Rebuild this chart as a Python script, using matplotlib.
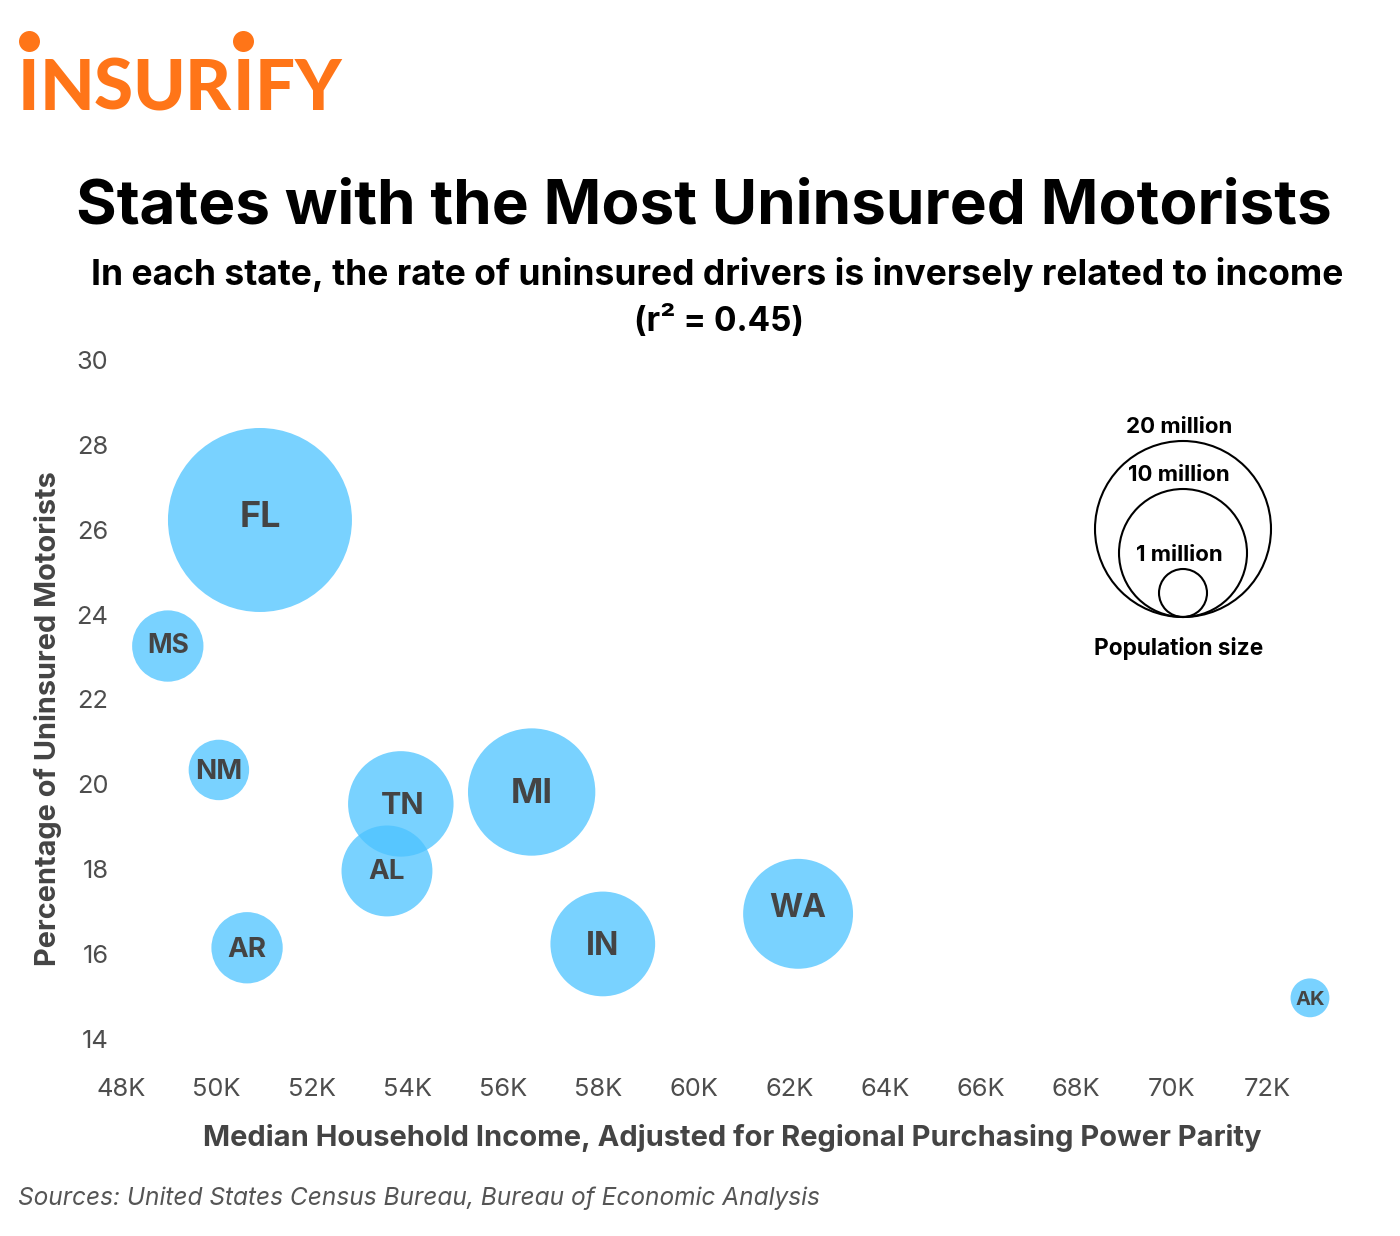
import numpy as np
import matplotlib
matplotlib.use('Agg')
import matplotlib.pyplot as plt

plt.rcParams['font.family'] = ['Inter', 'DejaVu Sans']

states = ['FL', 'MS', 'NM', 'TN', 'MI', 'AL', 'AR', 'IN', 'WA', 'AK']
income = [50.91, 48.98, 50.05, 53.86, 56.6, 53.57, 50.64, 58.09, 62.18, 72.9]
uninsured = [26.23, 23.26, 20.34, 19.54, 19.82, 17.96, 16.15, 16.24, 16.95, 14.97]
population = [21.3, 3.2, 2.3, 7.0, 10.2, 5.2, 3.2, 6.9, 7.6, 0.95]
label_size = [26, 19, 20, 22, 25, 20, 20, 23, 23, 14.5]

x_ticks = list(range(48, 74, 2))
y_ticks = list(range(14, 32, 2))

legend_names = ['20 million', '10 million', '1 million']
legend_radius = [88, 64, 24]
legend_label_y = [427, 475, 555]

logo_letters = list('INSURIFY')
logo_x = [28.5, 67, 113, 159, 208, 243.5, 275, 318]

W, H = 1400, 1236
BLUE = '#4cc3ff'
DARK = '#444444'
ORANGE = '#ff7518'

fig = plt.figure(figsize=(W / 100, H / 100), dpi=100)

# axes box in pixels, 48K at 121, 72K at 1267, 30 at 360, 14 at 1039
left, right, top, bottom = 121, 1340, 360, 1039
ax = fig.add_axes([left / W, 1 - bottom / H, (right - left) / W, (bottom - top) / H])
ax.set_xlim(48, 48 + (right - left) / 47.75)
ax.set_ylim(14, 30)
for s in ax.spines.values():
    s.set_visible(False)

# population is area, FL comes out at about 92 px radius
k = (2 * 92 * 0.72) ** 2 / 21.3
ax.scatter(income, uninsured, s=np.array(population) * k, color=BLUE, alpha=0.75,
           linewidths=0, clip_on=False, zorder=2)
# a couple of labels sit off centre
nudge = {'FL': 2, 'WA': 4, 'MS': 0, 'AL': -1}
for st, xv, yv, fs in zip(states, income, uninsured, label_size):
    ax.annotate(st, (xv, yv), xytext=(1 if st == 'TN' else 0, nudge.get(st, -1.5)), textcoords='offset points',
                ha='center', va='center', fontsize=fs, fontweight='bold', color=DARK, zorder=3)

ax.set_xticks(x_ticks)
ax.set_xticklabels(['%dK' % t for t in x_ticks])
ax.set_yticks(y_ticks)
ax.tick_params(axis='x', length=0, pad=28, labelsize=18.3, labelcolor='#4d4d4d')
ax.tick_params(axis='y', length=0, pad=9, labelsize=18.3, labelcolor='#4d4d4d')

fig.text(732 / W, 1 - 1138 / H, 'Median Household Income, Adjusted for Regional Purchasing Power Parity',
         ha='center', va='center', fontsize=20.95, fontweight='bold', color=DARK)
fig.text(48 / W, 1 - 719 / H, 'Percentage of Uninsured Motorists', rotation=90,
         ha='center', va='center', fontsize=20.85, fontweight='bold', color=DARK)

# size legend, circles share the bottom point
overlay = fig.add_axes([0, 0, 1, 1], facecolor='none')
overlay.set_xlim(0, W)
overlay.set_ylim(H, 0)
overlay.axis('off')
for r in legend_radius:
    overlay.scatter([1183], [617 - r], s=(2 * r * 0.72) ** 2, facecolor='none', edgecolor='black', linewidths=1.5)
for name, ly in zip(legend_names, legend_label_y):
    overlay.text(1179, ly, name, ha='center', va='center', fontsize=16, fontweight='bold', color='black')
overlay.text(1179, 648, 'Population size', ha='center', va='center', fontsize=16.3, fontweight='bold', color='black')

# logo, letters placed one by one to get the tight spacing
for letter, lx in zip(logo_letters, logo_x):
    overlay.text(lx, 110, letter, ha='center', va='baseline', fontsize=51, fontweight='black',
                 family=['Lato', 'DejaVu Sans'], color=ORANGE)
overlay.scatter([28.5, 243], [40.5, 40.5], s=(2 * 10.5 * 0.72) ** 2, color=ORANGE, linewidths=0)

# headings
overlay.text(704, 207, 'States with the Most Uninsured Motorists', ha='center', va='center',
             fontsize=44.7, fontweight='bold', color='black')
overlay.text(717, 274, 'In each state, the rate of uninsured drivers is inversely related to income',
             ha='center', va='center', fontsize=25.5, fontweight='bold', color='black')
overlay.text(719, 322, '(r\u00b2 = 0.45)', ha='center', va='center', fontsize=24, fontweight='bold', color='black')

overlay.text(18, 1198, 'Sources: United States Census Bureau, Bureau of Economic Analysis', ha='left', va='center',
             fontsize=17.6, style='italic', color='#555555')

fig.savefig('out.png', dpi=100)
